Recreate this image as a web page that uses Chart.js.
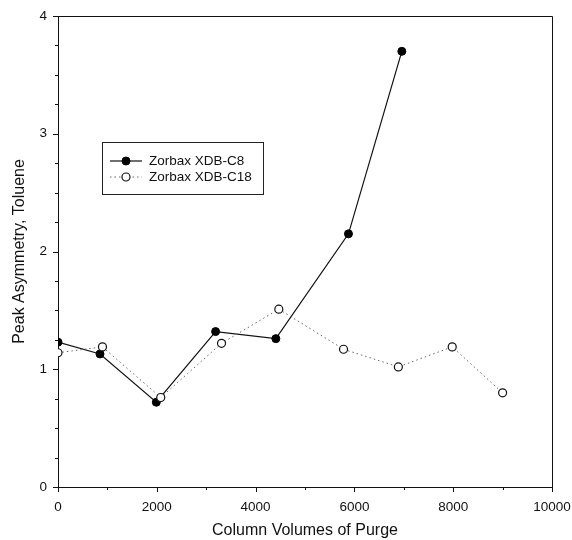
<!DOCTYPE html>
<html>
<head>
<meta charset="utf-8">
<script src="https://cdn.jsdelivr.net/npm/chart.js@4/dist/chart.umd.min.js"></script>
<style>
  html, body { margin: 0; padding: 0; background: #fff; }
</style>
</head>
<body>
<canvas id="chart" width="572" height="540"></canvas>
<script>
// values
const seriesNames = ["Zorbax XDB-C8", "Zorbax XDB-C18"];
const c8Volumes = [0, 850, 1990, 3190, 4410, 5880, 6960];
const c8Asymmetry = [1.23, 1.13, 0.72, 1.32, 1.26, 2.15, 3.70];
const c18Volumes = [0, 900, 2080, 3310, 4470, 5780, 6890, 7980, 9000];
const c18Asymmetry = [1.14, 1.19, 0.76, 1.22, 1.51, 1.17, 1.02, 1.19, 0.80];
const xTickLabels = [0, 2000, 4000, 6000, 8000, 10000];
const yTickLabels = [0, 1, 2, 3, 4];

const FONT = "'Liberation Sans', Arial, sans-serif";

function toPoints(xs, ys) {
  return xs.map((x, i) => ({ x: x, y: ys[i] }));
}

function noScalePadding(scale) {
  scale.paddingLeft = 0;
  scale.paddingRight = 0;
  scale.paddingTop = 0;
  scale.paddingBottom = 0;
}

// outward ticks: long at labelled values, short in between
const tickMarks = {
  id: "tickMarks",
  afterDraw(chart) {
    const ctx = chart.ctx;
    const area = chart.chartArea;
    ctx.save();
    ctx.strokeStyle = "#111";
    ctx.lineWidth = 1;
    // frame top and right
    ctx.beginPath();
    ctx.moveTo(area.left, area.top + 0.5);
    ctx.lineTo(area.right + 0.5, area.top + 0.5);
    ctx.lineTo(area.right + 0.5, area.bottom);
    ctx.stroke();

    const xs = chart.scales.x;
    xs.ticks.forEach((t) => {
      const px = Math.round(xs.getPixelForValue(t.value)) + 0.5;
      const len = xTickLabels.includes(t.value) ? 5 : 3;
      ctx.beginPath();
      ctx.moveTo(px, area.bottom);
      ctx.lineTo(px, area.bottom + len);
      ctx.stroke();
    });
    const ys = chart.scales.y;
    ys.ticks.forEach((t) => {
      const py = Math.round(ys.getPixelForValue(t.value)) + 0.5;
      const len = yTickLabels.includes(t.value) ? 5 : 3;
      ctx.beginPath();
      ctx.moveTo(area.left, py);
      ctx.lineTo(area.left - len, py);
      ctx.stroke();
    });
    ctx.restore();
  },
};

// boxed legend inside the plot
const boxLegend = {
  id: "boxLegend",
  afterDraw(chart) {
    const ctx = chart.ctx;
    const box = { left: 102, top: 142, width: 161, height: 52 };
    ctx.save();
    ctx.fillStyle = "#fff";
    ctx.fillRect(box.left, box.top, box.width, box.height);
    ctx.strokeStyle = "#222";
    ctx.lineWidth = 1;
    ctx.strokeRect(box.left + 0.5, box.top + 0.5, box.width, box.height);

    chart.data.datasets.forEach((ds, i) => {
      const y = box.top + 19 + i * 16;
      ctx.strokeStyle = ds.borderColor;
      ctx.lineWidth = ds.borderWidth;
      ctx.setLineDash(ds.borderDash || []);
      ctx.beginPath();
      ctx.moveTo(box.left + 8, y);
      ctx.lineTo(box.left + 40, y);
      ctx.stroke();
      ctx.setLineDash([]);
      ctx.beginPath();
      ctx.arc(box.left + 24, y, ds.pointRadius, 0, Math.PI * 2);
      ctx.fillStyle = ds.pointBackgroundColor;
      ctx.fill();
      ctx.strokeStyle = ds.pointBorderColor;
      ctx.lineWidth = ds.pointBorderWidth;
      ctx.stroke();

      ctx.fillStyle = "#111";
      ctx.font = "13.5px " + FONT;
      ctx.textBaseline = "middle";
      ctx.fillText(ds.label, box.left + 47, y);
    });
    ctx.restore();
  },
};

new Chart(document.getElementById("chart"), {
  type: "scatter",
  data: {
    datasets: [
      {
        label: seriesNames[0],
        data: toPoints(c8Volumes, c8Asymmetry),
        showLine: true,
        borderColor: "#111",
        borderWidth: 1.2,
        pointRadius: 4,
        pointBackgroundColor: "#000",
        pointBorderColor: "#000",
        pointBorderWidth: 1,
        order: 1,
      },
      {
        label: seriesNames[1],
        data: toPoints(c18Volumes, c18Asymmetry),
        showLine: true,
        borderColor: "#666",
        borderWidth: 1,
        borderDash: [1.5, 3],
        pointRadius: 4,
        pointBackgroundColor: "#fff",
        pointBorderColor: "#111",
        pointBorderWidth: 1.2,
        order: 0,
      },
    ],
  },
  options: {
    responsive: false,
    animation: false,
    devicePixelRatio: 1,
    layout: { padding: { top: 16, right: 20, left: 0, bottom: 0 }, autoPadding: false },
    plugins: {
      legend: { display: false },
      tooltip: { enabled: false },
    },
    scales: {
      x: {
        type: "linear",
        min: 0,
        max: 10000,
        afterFit: (scale) => { scale.height = 53; noScalePadding(scale); },
        grid: { display: true, drawOnChartArea: false, drawTicks: false },
        border: { display: true, color: "#111", width: 1 },
        ticks: {
          stepSize: 1000,
          autoSkip: false,
          maxRotation: 0,
          padding: 12,
          color: "#111",
          font: { family: FONT, size: 13.5 },
          callback: (v) => (xTickLabels.includes(v) ? String(v) : ""),
        },
        title: {
          display: true,
          text: "Column Volumes of Purge",
          color: "#111",
          font: { family: FONT, size: 16 },
          padding: { top: 0, bottom: 0 },
        },
      },
      y: {
        type: "linear",
        min: 0,
        max: 4,
        afterFit: (scale) => { scale.width = 58; noScalePadding(scale); },
        grid: { display: true, drawOnChartArea: false, drawTicks: false },
        border: { display: true, color: "#111", width: 1 },
        ticks: {
          stepSize: 0.25,
          autoSkip: false,
          padding: 11,
          color: "#111",
          font: { family: FONT, size: 13.5 },
          callback: (v) => (yTickLabels.includes(v) ? String(v) : ""),
        },
        title: {
          display: true,
          text: "Peak Asymmetry, Toluene",
          color: "#111",
          font: { family: FONT, size: 16 },
          padding: { top: 10, bottom: 0 },
        },
      },
    },
  },
  plugins: [tickMarks, boxLegend],
});
</script>
</body>
</html>
